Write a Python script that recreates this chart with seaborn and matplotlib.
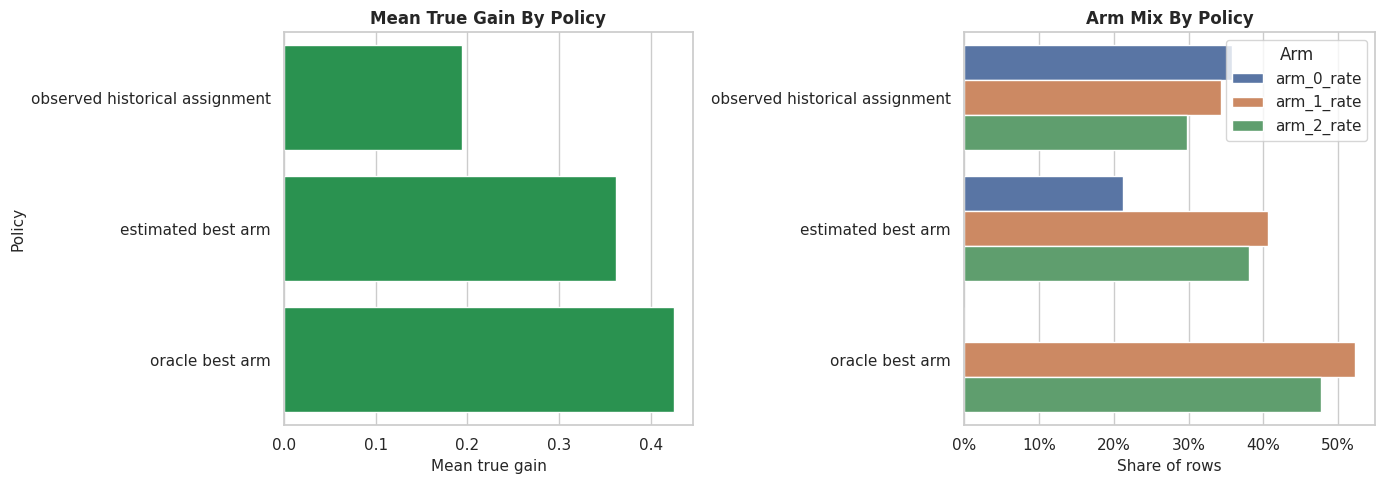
import matplotlib
matplotlib.use("Agg")
import matplotlib.pyplot as plt
from matplotlib.ticker import PercentFormatter
import pandas as pd
import seaborn as sns

# Values
policies = ["observed historical assignment", "estimated best arm", "oracle best arm"]
mean_true_gain = [0.194, 0.362, 0.425]

arms = ["arm_0_rate", "arm_1_rate", "arm_2_rate"]
arm_0_rate = [0.358, 0.213, 0.0]
arm_1_rate = [0.344, 0.406, 0.523]
arm_2_rate = [0.298, 0.381, 0.477]

gain_df = pd.DataFrame({"policy": policies, "mean_true_gain": mean_true_gain})

mix_df = pd.DataFrame({"policy": policies, "arm_0_rate": arm_0_rate,
                       "arm_1_rate": arm_1_rate, "arm_2_rate": arm_2_rate})
mix_long = mix_df.melt(id_vars="policy", value_vars=arms, var_name="Arm", value_name="share")

sns.set_theme(style="whitegrid")

fig, axes = plt.subplots(1, 2, figsize=(13.83, 4.84))

# left panel: mean true gain
ax = axes[0]
sns.barplot(data=gain_df, x="mean_true_gain", y="policy", color="#2a9250",
            saturation=1, ax=ax)
ax.set_title("Mean True Gain By Policy", fontweight="bold")
ax.set_xlabel("Mean true gain", fontsize=11)
ax.set_ylabel("Policy", fontsize=11)

# right panel: arm mix
ax = axes[1]
sns.barplot(data=mix_long, x="share", y="policy", hue="Arm", ax=ax)
ax.set_title("Arm Mix By Policy", fontweight="bold")
ax.set_xlabel("Share of rows", fontsize=11)
ax.set_ylabel("")
ax.xaxis.set_major_formatter(PercentFormatter(1.0, decimals=0))
ax.legend(title="Arm", loc="upper right")

fig.subplots_adjust(left=0.2054, right=0.9942, top=0.934, bottom=0.122, wspace=0.0)
axes[0].set_position([284 / 1383, 1 - 425 / 484, (693 - 284) / 1383, (425 - 32) / 484])
axes[1].set_position([964 / 1383, 1 - 425 / 484, (1375 - 964) / 1383, (425 - 32) / 484])

plt.savefig("out.png", dpi=100)
